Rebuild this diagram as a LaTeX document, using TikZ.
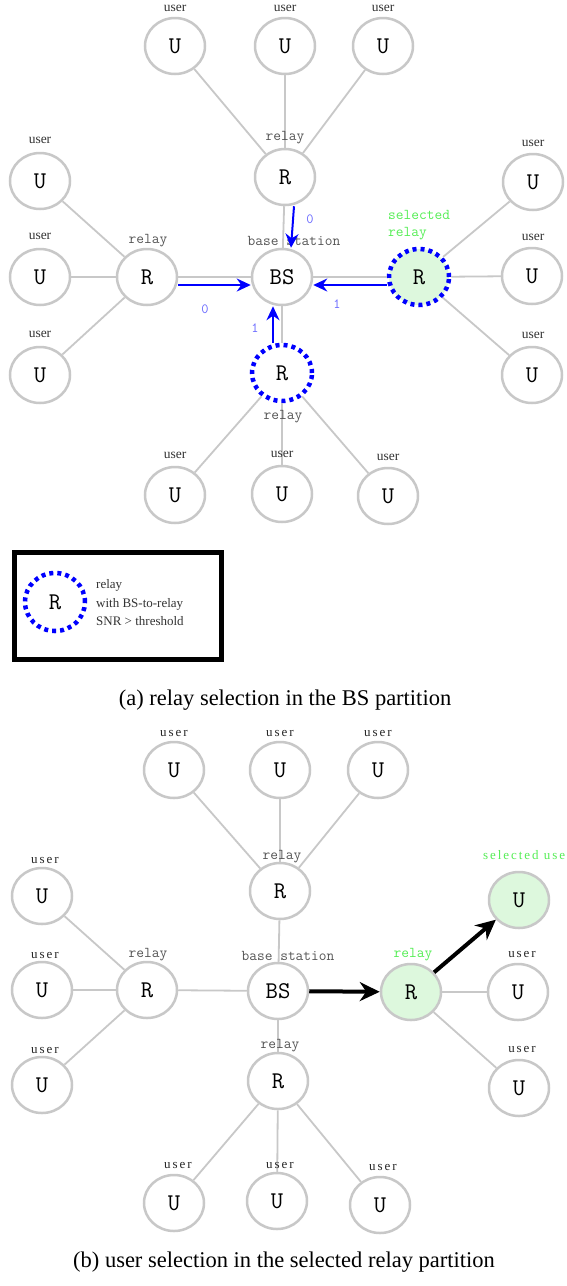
\documentclass[tikz,border=0pt]{standalone}
\usepackage{fontspec}
\setmainfont{Liberation Serif}
\usetikzlibrary{shapes.geometric,arrows.meta}
\definecolor{edgegray}{HTML}{C8C8C8}
\definecolor{txtgray}{HTML}{555555}
\definecolor{selgreen}{HTML}{55EE55}
\definecolor{selfill}{HTML}{DDF8DD}
\definecolor{numblue}{HTML}{6A6AFF}
\tikzset{
  net/.style={ellipse, draw=edgegray, line width=2.5pt, fill=white,
    minimum width=60pt, minimum height=56pt, inner sep=0pt,
    font={\ttfamily\fontsize{24}{24}\selectfont}},
  chosen/.style={fill=selfill},
  dotring/.style={draw=blue, line width=4.5pt, dash pattern=on 4pt off 4pt},
  link/.style={draw=edgegray, line width=1.8pt},
  ulabel/.style={font={\fontsize{13.5}{13.5}\selectfont}, text=black!80},
  ulabelb/.style={font={\fontsize{13}{13}\selectfont\addfontfeature{LetterSpace=15}}, text=black!85},
  mlabel/.style={font={\ttfamily\fontsize{15}{15}\selectfont}, text=txtgray},
  flow/.style={draw=blue, line width=2pt, -{Stealth[length=14pt,width=13pt]}},
  pick/.style={draw=black, line width=4pt, -{Stealth[length=20pt,width=19pt]}},
  num/.style={font={\ttfamily\fontsize{14}{14}\selectfont}, text=numblue},
  caption/.style={font={\fontsize{22.5}{22.5}\selectfont}}
}
\begin{document}
\begin{tikzpicture}[x=1pt,y=-1pt]
\useasboundingbox[fill=white] (0,0) rectangle (566,1286);

% ---------- (a) relay selection ----------
\node[net] (aBS) at (282,277) {BS};
\node[net] (aRt) at (285,177) {R};
\node[net] (aRl) at (147,277) {R};
\node[net,chosen,dotring] (aRr) at (419,277) {R};
\node[net,dotring] (aRb) at (282,373) {R};

\node[net] (aU1) at (175,46) {U};
\node[net] (aU2) at (285,46) {U};
\node[net] (aU3) at (383,46) {U};
\node[net] (aU4) at (40,181) {U};
\node[net] (aU5) at (40,277) {U};
\node[net] (aU6) at (40,375) {U};
\node[net] (aU7) at (533,182) {U};
\node[net] (aU8) at (532,276) {U};
\node[net] (aU9) at (532,375) {U};
\node[net] (aU10) at (175,495) {U};
\node[net] (aU11) at (282,494) {U};
\node[net] (aU12) at (388,496) {U};

\foreach \r/\u in {aRt/aU1,aRt/aU2,aRt/aU3,aRl/aU4,aRl/aU5,aRl/aU6,
                   aRr/aU7,aRr/aU8,aRr/aU9,aRb/aU10,aRb/aU11,aRb/aU12,
                   aRt/aBS,aRl/aBS,aRr/aBS,aRb/aBS}
  \draw[link] (\r) -- (\u);

\node[ulabel] (aL1) at (175,8) {user};
\node[ulabel] (aL2) at (285,8) {user};
\node[ulabel] (aL3) at (383,8) {user};
\node[ulabel] (aL4) at (40,140) {user};
\node[ulabel] (aL5) at (40,236) {user};
\node[ulabel] (aL6) at (40,334) {user};
\node[ulabel] (aL7) at (533,143) {user};
\node[ulabel] (aL8) at (533,237) {user};
\node[ulabel] (aL9) at (533,335) {user};
\node[ulabel] (aL10) at (175,455) {user};
\node[ulabel] (aL11) at (282,454) {user};
\node[ulabel] (aL12) at (388,457) {user};

\node[mlabel] (aLt) at (285,138) {relay};
\node[mlabel] (aLl) at (148,241) {relay};
\node[mlabel] (aLb) at (283,417) {relay};
\node[mlabel] (aLbs) at (294,241) {base station};
\node[mlabel, text=selgreen, anchor=west, inner sep=0pt] (aSel1) at (388,215) {selected};
\node[mlabel, text=selgreen, anchor=west, inner sep=0pt] (aSel2) at (388,234) {relay};

\draw[flow] ([xshift=9pt]aRt.south) -- ([xshift=9pt]aBS.north);
\draw[flow] ([yshift=-8pt]aRl.east) -- ([yshift=-8pt]aBS.west);
\draw[flow] ([yshift=-8pt]aRr.west) -- ([yshift=-8pt]aBS.east);
\draw[flow] ([xshift=-9pt]aRb.north) -- ([xshift=-9pt]aBS.south);

\node[num] (aN1) at (310,219) {0};
\node[num] (aN2) at (205,309) {0};
\node[num] (aN3) at (337,304) {1};
\node[num] (aN4) at (255,328) {1};

% legend
\node[draw=black, line width=5pt, minimum width=207pt, minimum height=107pt] (key) at (118,606) {};
\node[net, dotring, minimum width=60pt, minimum height=58pt] (keyR) at (55,602) {R};
\node[anchor=west, align=left, inner sep=0pt, text=black!80,
      font={\fontsize{13}{18.5}\selectfont}] (keyT) at (96,603)
  {relay\\with BS-to-relay\\SNR > threshold};

\node[caption] (capA) at (285,700) {(a) relay selection in the BS partition};

% ---------- (b) user selection ----------
\node[net] (bBS) at (278,991) {BS};
\node[net] (bRt) at (280,891) {R};
\node[net] (bRl) at (147,990) {R};
\node[net,chosen] (bRr) at (411,992) {R};
\node[net] (bRb) at (278,1081) {R};

\node[net] (bU1) at (174,770) {U};
\node[net] (bU2) at (280,770) {U};
\node[net] (bU3) at (378,770) {U};
\node[net] (bU4) at (42,896) {U};
\node[net] (bU5) at (42,990) {U};
\node[net] (bU6) at (42,1085) {U};
\node[net,chosen] (bU7) at (519,900) {U};
\node[net] (bU8) at (518,992) {U};
\node[net] (bU9) at (519,1088) {U};
\node[net] (bU10) at (174,1203) {U};
\node[net] (bU11) at (277,1201) {U};
\node[net] (bU12) at (380,1205) {U};

\foreach \r/\u in {bRt/bU1,bRt/bU2,bRt/bU3,bRl/bU4,bRl/bU5,bRl/bU6,
                   bRr/bU8,bRr/bU9,bRb/bU10,bRb/bU11,bRb/bU12,
                   bRt/bBS,bRl/bBS,bRb/bBS}
  \draw[link] (\r) -- (\u);

\node[ulabelb] (bL1) at (174,733) {user};
\node[ulabelb] (bL2) at (280,733) {user};
\node[ulabelb] (bL3) at (378,733) {user};
\node[ulabelb] (bL4) at (45,860) {user};
\node[ulabelb] (bL5) at (45,955) {user};
\node[ulabelb] (bL6) at (45,1050) {user};
\node[ulabelb, text=selgreen, anchor=west, inner sep=0pt] (bL7) at (483,855) {selected use};
\node[ulabelb] (bL8) at (522,954) {user};
\node[ulabelb] (bL9) at (522,1049) {user};
\node[ulabelb] (bL10) at (178,1165) {user};
\node[ulabelb] (bL11) at (280,1165) {user};
\node[ulabelb] (bL12) at (383,1167) {user};

\node[mlabel] (bLt) at (282,857) {relay};
\node[mlabel] (bLl) at (148,955) {relay};
\node[mlabel] (bLb) at (280,1046) {relay};
\node[mlabel, text=selgreen] (bLr) at (413,955) {relay};
\node[mlabel] (bLbs) at (288,956) {base station};

\draw[pick] (bBS) -- (bRr);
\draw[pick] (bRr) -- (bU7);

\node[caption] (capB) at (284,1262) {(b) user selection in the selected relay partition};
\end{tikzpicture}
\end{document}
